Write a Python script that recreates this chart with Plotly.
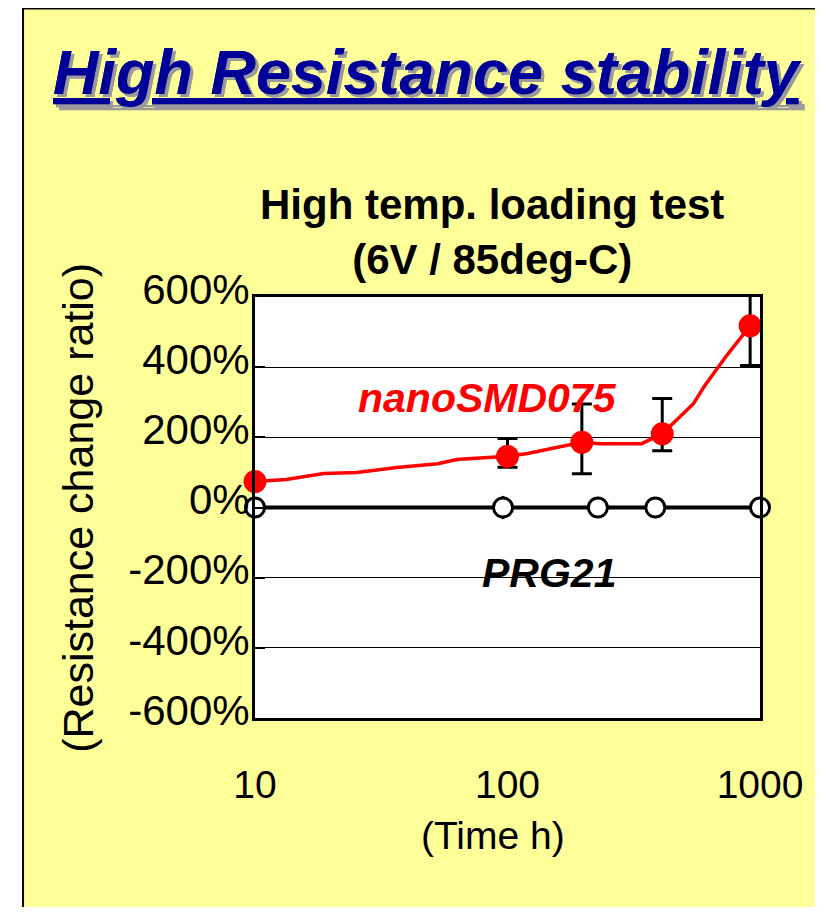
import plotly.graph_objects as go

# ---------------- data ----------------
# nanoSMD075 trend line (vertices)
nano_line_x = [10, 13.3, 18.7, 25.3, 36.5, 53, 62.9, 85, 100, 120, 151, 197, 233, 340, 410, 545, 601, 738, 914]
nano_line_y = [74, 80, 97, 100, 114, 125, 137, 142, 146, 154, 168, 186, 182, 182, 210, 296, 345, 433, 518]
# nanoSMD075 measured points with error ranges
nano_x = [10, 100, 197, 410, 914]
nano_y = [74, 146, 186, 210, 518]
nano_err_plus = [0, 51, 109, 101, 117]
nano_err_minus = [0, 31, 90, 48, 113]
# PRG21 measured points
prg_x = [10, 96, 228, 385, 1000]
prg_y = [0, 0, 0, 0, 0]
prg_err = [0, 33, 0, 0, 0]

y_tickvals = [600, 400, 200, 0, -200, -400, -600]
y_ticktext = ["600%", "400%", "200%", "0%", "-200%", "-400%", "-600%"]
x_tickvals = [10, 100, 1000]
x_ticktext = ["10", "100", "1000"]

# ---------------- layout geometry ----------------
OFF = 8  # page margin of the browser body
W, H = 823 - 2 * OFF, 915 - 2 * OFF
PL, PR, PT, PB = 255 - OFF, 771 - OFF, 297 - OFF, 718 - OFF  # plot area in figure pixels
FONT = "Liberation Sans, Arial, Helvetica, sans-serif"
YELLOW = "#FFFF99"


def px(xs):
    """screen x (as measured) -> paper x"""
    return (xs - OFF - PL) / (PR - PL)


def py(ys):
    """screen y (as measured) -> paper y"""
    return (PB - (ys - OFF)) / (PB - PT)


fig = go.Figure()

fig.add_trace(go.Scatter(
    x=nano_line_x, y=nano_line_y, mode="lines",
    line=dict(color="#FF0000", width=3.5), hoverinfo="skip", showlegend=False,
))
fig.add_trace(go.Scatter(
    x=prg_x, y=prg_y, mode="lines+markers",
    line=dict(color="black", width=4),
    marker=dict(size=19, color="white", line=dict(color="black", width=3)),
    error_y=dict(type="data", array=prg_err, symmetric=True, color="black", thickness=3, width=0),
    cliponaxis=False, showlegend=False,
))
fig.add_trace(go.Scatter(
    x=nano_x, y=nano_y, mode="markers",
    marker=dict(size=23, color="#FF0000"),
    error_y=dict(type="data", array=nano_err_plus, arrayminus=nano_err_minus, symmetric=False,
                 color="black", thickness=3, width=10),
    cliponaxis=False, showlegend=False,
))

shapes = [
    # slide panel
    dict(type="rect", xref="paper", yref="paper", x0=px(18), x1=px(880), y0=py(980), y1=py(8.5),
         fillcolor=YELLOW, line=dict(color="black", width=2), layer="below"),
    # plot area
    dict(type="rect", xref="paper", yref="paper", x0=0, x1=1, y0=0, y1=1,
         fillcolor="white", line=dict(width=0), layer="below"),
]

annotations = [
    dict(text="<b><i><u>High Resistance stability</u></i></b>", x=px(431), y=py(72),
         xref="paper", yref="paper", showarrow=False, xanchor="center", yanchor="middle",
         font=dict(family=FONT, size=63, color="#000099", shadow="3px 3px 0px #9a9a9a")),
    dict(text="<b>High temp. loading test<br>(6V / 85deg-C)</b>", x=px(497), y=py(232),
         xref="paper", yref="paper", showarrow=False, xanchor="center", yanchor="middle",
         font=dict(family=FONT, size=42, color="black")),
    dict(text="<b><i>nanoSMD075</i></b>", x=px(493), y=py(398),
         xref="paper", yref="paper", showarrow=False, xanchor="center", yanchor="middle",
         font=dict(family=FONT, size=41, color="#FF0000")),
    dict(text="<b><i>PRG21</i></b>", x=px(555), y=py(573),
         xref="paper", yref="paper", showarrow=False, xanchor="center", yanchor="middle",
         font=dict(family=FONT, size=41, color="black")),
    dict(text="(Resistance change ratio)", x=px(74), y=py(508), textangle=-90,
         xref="paper", yref="paper", showarrow=False, xanchor="center", yanchor="middle",
         font=dict(family=FONT, size=43, color="black")),
    dict(text="(Time h)", x=px(498), y=py(835),
         xref="paper", yref="paper", showarrow=False, xanchor="center", yanchor="middle",
         font=dict(family=FONT, size=39, color="black")),
]

fig.update_layout(
    width=W, height=H,
    margin=dict(l=PL, r=W - PR, t=PT, b=H - PB, pad=0),
    paper_bgcolor="white", plot_bgcolor="white",
    shapes=shapes, annotations=annotations,
    xaxis=dict(type="log", range=[1, 3], tickvals=x_tickvals, ticktext=x_ticktext,
               showgrid=False, zeroline=False, showline=True, mirror=True,
               linecolor="black", linewidth=3, ticks="",
               tickfont=dict(family=FONT, size=39, color="black"), ticklabelstandoff=30),
    yaxis=dict(range=[-600, 600], tickvals=y_tickvals, ticktext=y_ticktext,
               showgrid=True, gridcolor="black", gridwidth=1, zeroline=False,
               showline=True, mirror=True, linecolor="black", linewidth=3,
               ticks="inside", ticklen=10, tickwidth=2, tickcolor="black",
               tickfont=dict(family=FONT, size=42, color="black"),
               ticklabelshift=-8, ticklabelstandoff=-6),
)

fig.write_html("out.html", config={"displayModeBar": False})
